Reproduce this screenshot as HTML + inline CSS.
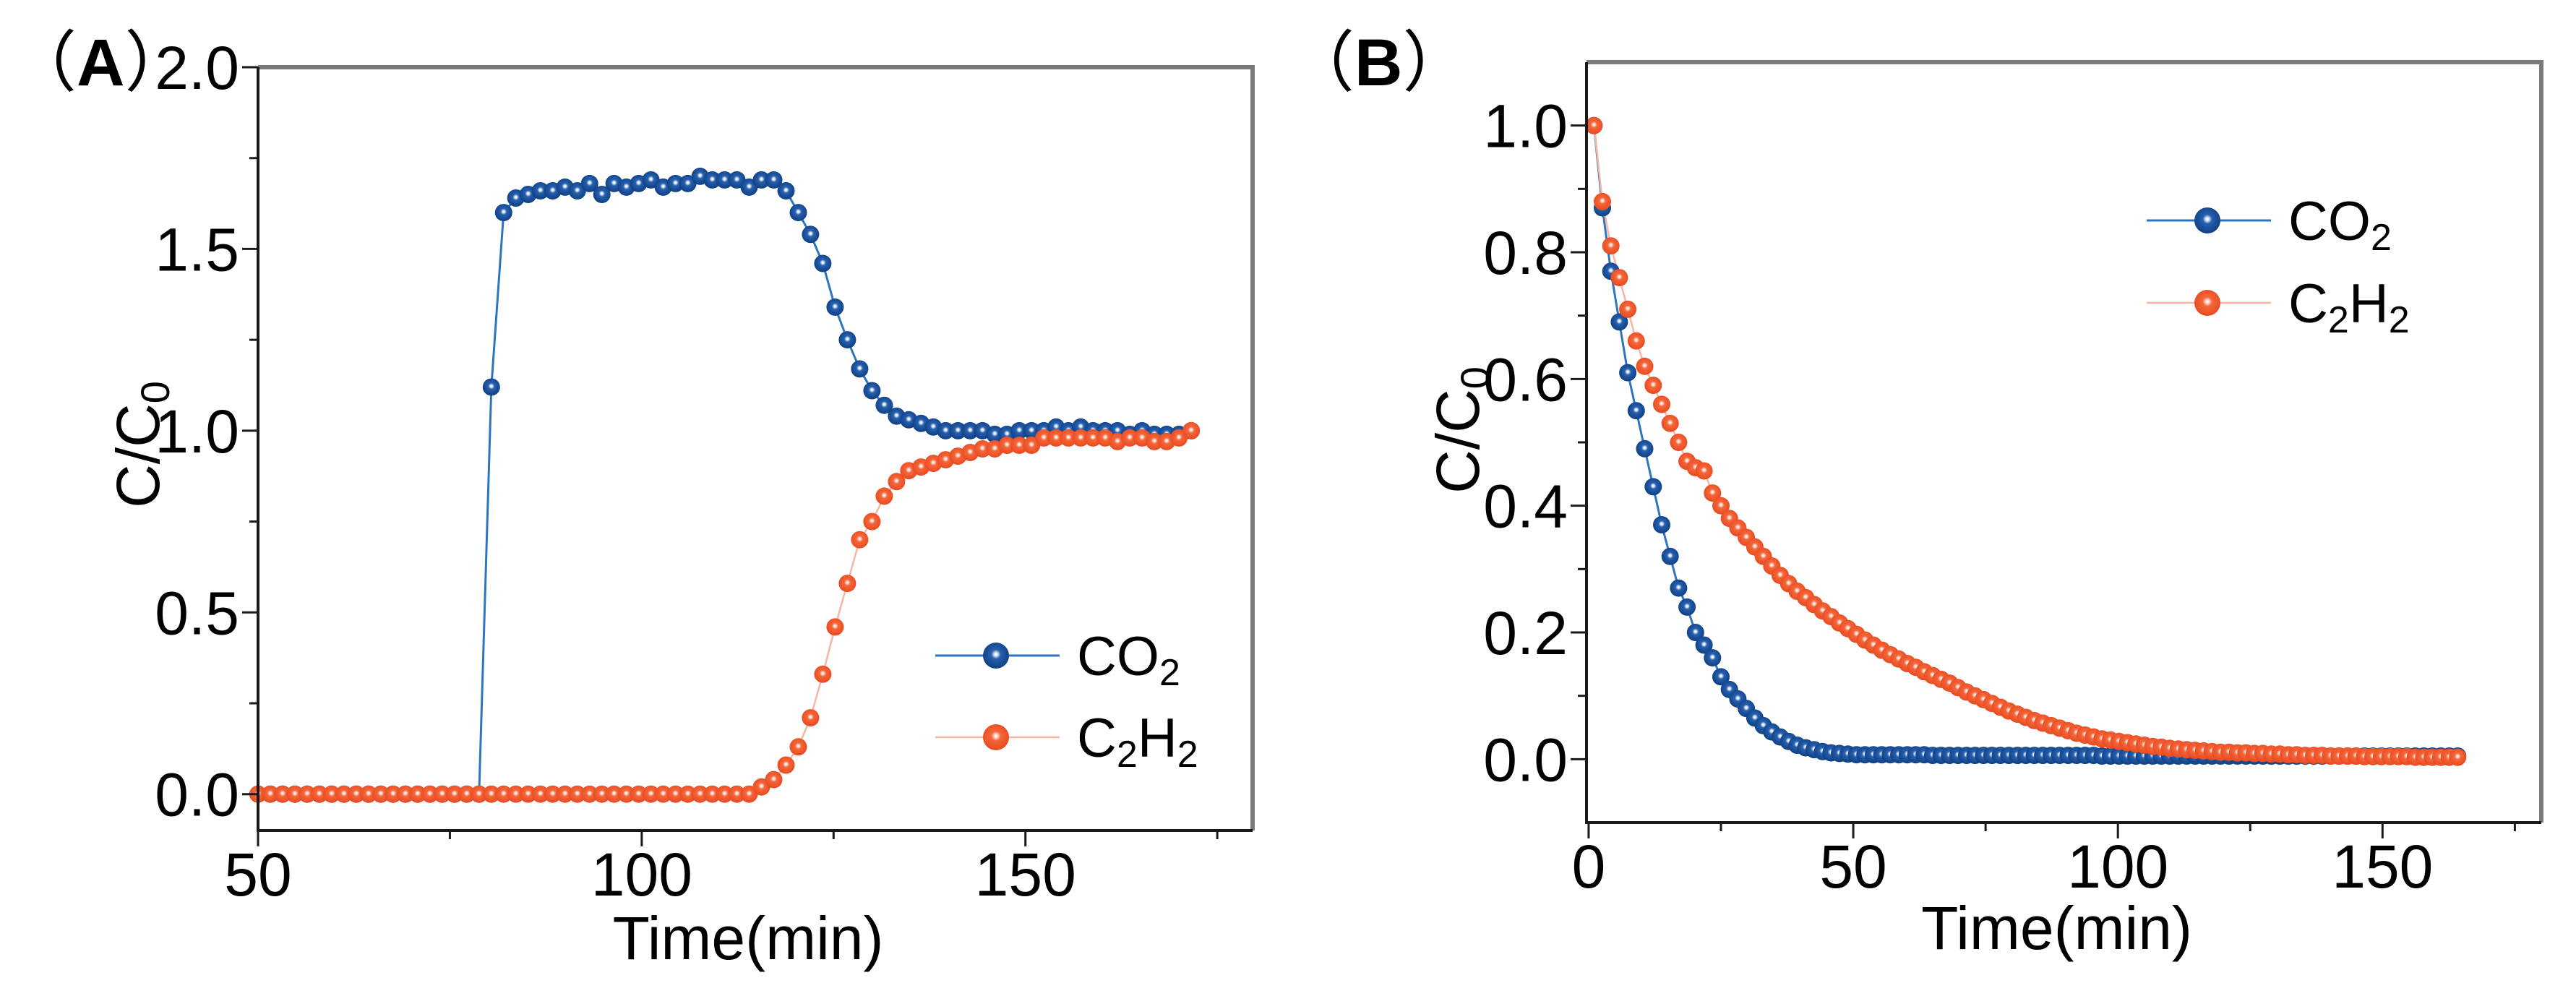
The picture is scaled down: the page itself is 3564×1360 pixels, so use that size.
<!DOCTYPE html>
<html><head><meta charset="utf-8">
<style>
html,body{margin:0;padding:0;background:#fff;}
svg{display:block;font-family:"Liberation Sans",Arial,sans-serif;}
</style></head>
<body>
<svg id="fig" width="3564" height="1360" viewBox="0 0 3564 1360" xmlns="http://www.w3.org/2000/svg">
<defs>
<radialGradient id="gBlue" cx="0.5" cy="0.45" r="0.6">
<stop offset="0" stop-color="#ffffff"/><stop offset="0.1" stop-color="#e6eef8"/><stop offset="0.3" stop-color="#2660ae"/><stop offset="1" stop-color="#0b3a7c"/>
</radialGradient>
<radialGradient id="gOrange" cx="0.5" cy="0.45" r="0.6">
<stop offset="0" stop-color="#ffffff"/><stop offset="0.1" stop-color="#fde3d8"/><stop offset="0.3" stop-color="#f5663a"/><stop offset="1" stop-color="#e6451c"/>
</radialGradient>
</defs>
</svg>
<script>
// Panel A data
const aTime=[50,51.6,53.2,54.8,56.4,58,59.6,61.2,62.8,64.4,66,67.6,69.2,70.8,72.4,74,75.6,77.2,78.8,80.4,82,83.6,85.2,86.8,88.4,90,91.6,93.2,94.8,96.4,98,99.6,101.2,102.8,104.4,106,107.6,109.2,110.8,112.4,114,115.6,117.2,118.8,120.4,122,123.6,125.2,126.8,128.4,130,131.6,133.2,134.8,136.4,138,139.6,141.2,142.8,144.4,146,147.6,149.2,150.8,152.4,154,155.6,157.2,158.8,160.4,162,163.6,165.2,166.8,168.4,170,171.6];
const aCO2=[0,0,0,0,0,0,0,0,0,0,0,0,0,0,0,0,0,0,0,1.12,1.60,
1.64,1.65,1.66,1.66,1.67,1.66,1.68,1.65,1.68,1.67,1.68,1.69,1.67,1.68,1.68,1.70,1.69,1.69,1.69,1.67,1.69,1.69,1.66,
1.60,1.54,1.46,1.34,1.25,1.17,1.11,1.07,1.04,1.03,1.02,1.01,1.00,1.00,1.00,1.00,0.99,0.99,1.00,1.00,1.00,1.01,1.00,1.01,1.00,1.00,1.00,0.99,1.00,0.99,0.99,0.99,1.00];
const aC2H2=[0,0,0,0,0,0,0,0,0,0,0,0,0,0,0,0,0,0,0,0,0,0,0,0,0,0,0,0,0,0,0,0,0,0,0,0,0,0,0,0,0,
0.02,0.04,0.08,0.13,0.21,0.33,0.46,0.58,0.70,0.75,0.82,0.86,0.89,0.90,0.91,0.92,0.93,0.94,0.95,0.95,0.96,0.96,0.96,0.98,0.98,0.98,0.98,0.98,0.98,0.97,0.98,0.98,0.97,0.97,0.98,1.00];
const aXTicks=[50,100,150];
const aXMinor=[75,125,175];
const aYTicks=[0,0.5,1.0,1.5,2.0];
const aYLabels=["0.0","0.5","1.0","1.5","2.0"];
const aYMinor=[0.25,0.75,1.25,1.75];
// Panel B data
const bTime=[1,2.6,4.2,5.8,7.4,9,10.6,12.2,13.8,15.4,17,18.6,20.2,21.8,23.4,25,26.6,28.2,29.8,31.4,33,34.6,36.2,37.8,39.4,41,42.6,44.2,45.8,47.4,49,50.6,52.2,53.8,55.4,57,58.6,60.2,61.8,63.4,65,66.6,68.2,69.8,71.4,73,74.6,76.2,77.8,79.4,81,82.6,84.2,85.8,87.4,89,90.6,92.2,93.8,95.4,97,98.6,100.2,101.8,103.4,105,106.6,108.2,109.8,111.4,113,114.6,116.2,117.8,119.4,121,122.6,124.2,125.8,127.4,129,130.6,132.2,133.8,135.4,137,138.6,140.2,141.8,143.4,145,146.6,148.2,149.8,151.4,153,154.6,156.2,157.8,159.4,161,162.6,164.2];
const bCO2=[1.00,0.87,0.77,0.69,0.61,0.55,0.49,0.43,0.37,0.32,
0.27,0.24,0.20,0.18,0.16,0.13,0.11,0.095,0.08,0.065,
0.053,0.043,0.035,0.028,0.022,0.018,0.015,0.012,0.010,0.009,
0.008,0.007,0.007,0.007,0.007,0.007,0.007,0.007,0.007,0.007,
0.006,0.006,0.006,0.006,0.006,0.006,0.006,0.006,0.006,0.006,
0.006,0.006,0.006,0.006,0.006,0.006,0.006,0.006,0.006,0.006,
0.005,0.005,0.005,0.005,0.005,0.005,0.005,0.005,0.005,0.005,
0.005,0.005,0.005,0.005,0.005,0.005,0.005,0.005,0.005,0.005,
0.005,0.005,0.005,0.005,0.005,0.005,0.005,0.005,0.005,0.005,
0.005,0.005,0.005,0.005,0.005,0.005,0.005,0.005,0.005,0.005,
0.005,0.005,0.005];
const bC2H2=[1.00,0.88,0.81,0.76,0.71,0.66,0.62,0.59,0.56,0.53,
0.50,0.47,0.46,0.455,0.42,0.40,0.38,0.365,0.35,0.335,
0.32,0.305,0.29,0.277,0.265,0.255,0.244,0.234,0.225,0.215,
0.206,0.197,0.188,0.18,0.172,0.165,0.158,0.151,0.145,0.138,
0.132,0.126,0.12,0.113,0.106,0.1,0.094,0.088,0.082,0.076,
0.071,0.066,0.061,0.057,0.053,0.049,0.045,0.041,0.038,0.035,
0.032,0.03,0.028,0.026,0.024,0.022,0.02,0.019,0.017,0.016,
0.015,0.014,0.013,0.012,0.011,0.011,0.01,0.01,0.009,0.009,
0.008,0.008,0.007,0.007,0.006,0.006,0.006,0.005,0.005,0.005,
0.005,0.004,0.004,0.004,0.004,0.004,0.004,0.003,0.003,0.003,
0.003,0.003,0.003];
const bXTicks=[0,50,100,150];
const bXMinor=[25,75,125,175];
const bYTicks=[0,0.2,0.4,0.6,0.8,1.0];
const bYLabels=["0.0","0.2","0.4","0.6","0.8","1.0"];
const bYMinor=[0.1,0.3,0.5,0.7,0.9];

const NS="http://www.w3.org/2000/svg";
const svg=document.getElementById('fig');
function mk(tag,attrs,parent){const e=document.createElementNS(NS,tag);for(const k in attrs)e.setAttribute(k,attrs[k]);(parent||svg).appendChild(e);return e;}

function panel(cfg){
  const g=mk('g',{});
  
  
  const sx=v=>cfg.L+(v-cfg.x0)/(cfg.x1-cfg.x0)*(cfg.R-cfg.L);
  const sy=v=>cfg.B-(v-cfg.y0)/(cfg.y1-cfg.y0)*(cfg.B-cfg.T);
  const fr=mk('path',{d:`M${cfg.L} ${cfg.T}H${cfg.R}V${cfg.B}`,fill:'none',stroke:'#7a7a7a','stroke-width':6},g);
  
  
  cfg.series.forEach(s=>{
    const pts=s.x.map((t,i)=>sx(t).toFixed(1)+','+sy(s.y[i]).toFixed(1)).join(' ');
    const pl=mk('polyline',{points:pts,fill:'none',stroke:s.line,'stroke-width':s.lw},g);
    
    
  });
  cfg.series.forEach(s=>{
    const sg=mk('g',{},g);
    
    
    s.x.forEach((t,i)=>{
      const c=mk('circle',{cx:sx(t).toFixed(1),cy:sy(s.y[i]).toFixed(1),r:12,fill:s.grad},sg);
      
      
    });
  });
  const ax=mk('path',{d:`M${cfg.L} ${cfg.T}V${cfg.B}H${cfg.R}`,fill:'none',stroke:'#1a1a1a','stroke-width':4},g);
  
  
  cfg.xt.forEach(v=>{
    mk('line',{x1:sx(v),x2:sx(v),y1:cfg.B,y2:cfg.B+22,stroke:'#1a1a1a','stroke-width':3},g);
    const t=mk('text',{x:sx(v),y:cfg.B+90,'font-size':84,'text-anchor':'middle',fill:'#000'},g);
    t.textContent=v;
    
    
  });
  cfg.xm.forEach(v=>{mk('line',{x1:sx(v),x2:sx(v),y1:cfg.B,y2:cfg.B+12,stroke:'#1a1a1a','stroke-width':3},g);});
  cfg.yt.forEach((v,i)=>{
    mk('line',{x1:cfg.L-22,x2:cfg.L,y1:sy(v),y2:sy(v),stroke:'#1a1a1a','stroke-width':3},g);
    const t=mk('text',{x:cfg.L-26,y:sy(v)+30,'font-size':84,'text-anchor':'end',fill:'#000'},g);
    t.textContent=cfg.yl[i];
    
    
  });
  cfg.ym.forEach(v=>{mk('line',{x1:cfg.L-12,x2:cfg.L,y1:sy(v),y2:sy(v),stroke:'#1a1a1a','stroke-width':3},g);});
  const xt=mk('text',{x:(cfg.L+cfg.R)/2-10,y:cfg.xtY,'font-size':84,'text-anchor':'middle',fill:'#000'},g);
  xt.textContent='Time(min)';
  
  
  const yt=mk('text',{transform:`translate(${cfg.ytX},${cfg.ytY}) rotate(-90)`,'font-size':84,'text-anchor':'middle',fill:'#000'},g);
  yt.innerHTML='C/C<tspan font-size="56" dy="14">0</tspan>';
  
  
  const pl=mk('text',{x:cfg.labX,y:cfg.labY,'font-size':92,fill:'#000'},g);
  pl.innerHTML='<tspan font-family="Noto Sans CJK SC, sans-serif">（</tspan><tspan font-weight="bold">'+cfg.letter+'</tspan><tspan font-family="Noto Sans CJK SC, sans-serif">）</tspan>';
  
  
  const lg=mk('g',{},g);
  
  
  cfg.series.forEach((s,i)=>{
    const y=cfg.legY[i];
    const eg=mk('g',{},lg);
    
    
    mk('line',{x1:cfg.legX,x2:cfg.legX+172,y1:y,y2:y,stroke:s.line,'stroke-width':s.lw},eg);
    mk('circle',{cx:cfg.legX+84,cy:y,r:18,fill:s.grad},eg);
    const t=mk('text',{x:cfg.legX+196,y:y+27,'font-size':76,fill:'#000'},eg);
    t.innerHTML=s.label;
  });
}

panel({name:'panel-a',letter:'A',L:357,R:1733,T:93,B:1149,x0:50,x1:179.6,y0:-0.1,y1:2.0,
  xt:aXTicks,xm:aXMinor,yt:aYTicks,yl:aYLabels,ym:aYMinor,xtY:1327,ytX:220,ytY:615,labX:14,labY:118,
  legX:1294,legY:[907,1020],
  series:[
    {key:'co2',x:aTime,y:aCO2,line:'#2e75c0',lw:3,grad:'url(#gBlue)',label:'CO<tspan font-size="52" dy="14">2</tspan>'},
    {key:'c2h2',x:aTime,y:aC2H2,line:'#f7b5a2',lw:2.5,grad:'url(#gOrange)',label:'C<tspan font-size="52" dy="14">2</tspan><tspan dy="-14">H</tspan><tspan font-size="52" dy="14">2</tspan>'}
  ]});
panel({name:'panel-b',letter:'B',L:2195,R:3516,T:86,B:1138,x0:-0.4,x1:180,y0:-0.1,y1:1.1,
  xt:bXTicks,xm:bXMinor,yt:bYTicks,yl:bYLabels,ym:bYMinor,xtY:1313,ytX:2046,ytY:595,labX:1782,labY:118,
  legX:2970,legY:[305,419],
  series:[
    {key:'co2',x:bTime,y:bCO2,line:'#2e75c0',lw:3,grad:'url(#gBlue)',label:'CO<tspan font-size="52" dy="14">2</tspan>'},
    {key:'c2h2',x:bTime,y:bC2H2,line:'#f7b5a2',lw:2.5,grad:'url(#gOrange)',label:'C<tspan font-size="52" dy="14">2</tspan><tspan dy="-14">H</tspan><tspan font-size="52" dy="14">2</tspan>'}
  ]});
</script>
</body></html>
